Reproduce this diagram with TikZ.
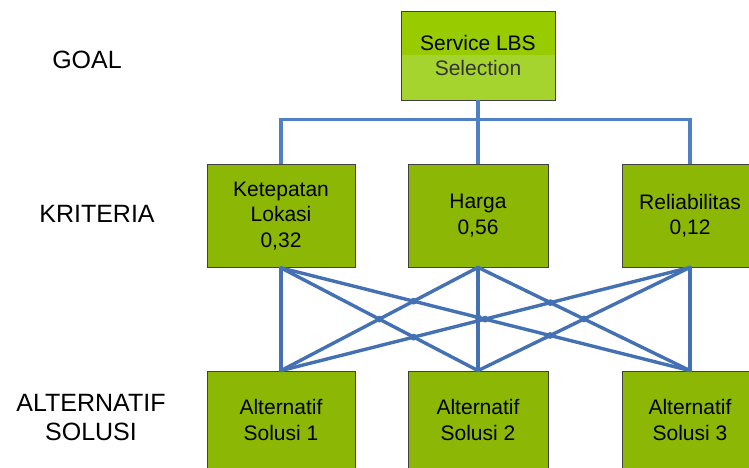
\documentclass[tikz,border=0pt]{standalone}
\usepackage{fontspec}
\setmainfont{Liberation Sans}
\usetikzlibrary{intersections}
\definecolor{boxgreen}{HTML}{8CB805}
\definecolor{goaltop}{HTML}{99CC00}
\definecolor{goalbot}{HTML}{A6D42E}
\definecolor{linkblue}{HTML}{4470B4}
\definecolor{treeblue}{HTML}{4F80C4}

\begin{document}
\begin{tikzpicture}[x=1pt,y=-1pt,
  box/.style={draw=black!75, line width=0.8pt, fill=boxgreen, align=center,
    inner sep=0pt, font=\fontsize{21}{25.5}\selectfont, text=black},
  lvl/.style={align=center, font=\fontsize{25}{29}\selectfont, text=black},
  link/.style={draw=linkblue, line width=3.4pt, line cap=round},
  tree/.style={draw=treeblue, line width=3.2pt},
  crossdot/.style={fill=linkblue},
]
\useasboundingbox (0,0) rectangle (749,468);
\fill[white] (0,0) rectangle (749,468);
\clip (0,0) rectangle (749,468);

% level labels
\node[lvl] (lgoal) at (87,60) {GOAL};
\node[lvl] (lkrit) at (97,214) {KRITERIA};
\node[lvl] (lalt) at (91,418) {ALTERNATIF\\SOLUSI};

% goal box, two-tone fill
\node[box, minimum width=154pt, minimum height=89pt,
  path picture={
    \fill[goaltop] (path picture bounding box.north west) rectangle (path picture bounding box.east);
    \fill[goalbot] (path picture bounding box.west) rectangle (path picture bounding box.south east);
  }] (goal) at (478,55.5) {Service LBS\\\textcolor{black!80}{Selection}};

% criteria
\node[box, minimum width=148pt, minimum height=103pt] (k) at (281,216) {Ketepatan\\Lokasi\\0,32};
\node[box, minimum width=140pt, minimum height=103pt] (h) at (478,215.5) {Harga\\0,56};
\node[box, minimum width=136pt, minimum height=103pt] (r) at (690,215.5) {Reliabilitas\\0,12};

% alternatives
\node[box, minimum width=148pt, minimum height=98pt] (a1) at (281,420) {Alternatif\\Solusi 1};
\node[box, minimum width=140pt, minimum height=98pt] (a2) at (478,420) {Alternatif\\Solusi 2};
\node[box, minimum width=136pt, minimum height=98pt] (a3) at (690,420) {Alternatif\\Solusi 3};

% goal to criteria
\draw[tree] (goal.south) -- ++(0,19.5) coordinate (hub);
\draw[tree] (k.north) |- (hub) -| (r.north);
\draw[tree] (hub) -- (h.north);

% criteria to alternatives
\draw[link] (k.south) -- (a1.north);
\draw[link] (h.south) -- (a2.north);
\draw[link] (r.south) -- (a3.north);
\draw[link, name path=kh] (k.south) -- (a2.north);
\draw[link, name path=kr] (k.south) -- (a3.north);
\draw[link, name path=hk] (h.south) -- (a1.north);
\draw[link, name path=hr] (h.south) -- (a3.north);
\draw[link, name path=rk] (r.south) -- (a1.north);
\draw[link, name path=rh] (r.south) -- (a2.north);
\path[name path=hh] (h.south) -- (a2.north);

% joints where the links cross
\fill[crossdot, name intersections={of=kh and hk, name=xa}] (xa-1) circle (3.4pt);
\fill[crossdot, name intersections={of=kr and hk, name=xb}] (xb-1) circle (3.4pt);
\fill[crossdot, name intersections={of=kh and rk, name=xc}] (xc-1) circle (3.4pt);
\fill[crossdot, name intersections={of=kr and rk, name=xd}] (xd-1) circle (3.4pt);
\fill[crossdot, name intersections={of=hr and rh, name=xe}] (xe-1) circle (3.4pt);
\fill[crossdot, name intersections={of=kr and rh, name=xf}] (xf-1) circle (3.4pt);
\fill[crossdot, name intersections={of=hr and rk, name=xg}] (xg-1) circle (3.4pt);
\fill[crossdot, name intersections={of=hh and kr, name=xh}] (xh-1) circle (3.4pt);
\end{tikzpicture}
\end{document}
